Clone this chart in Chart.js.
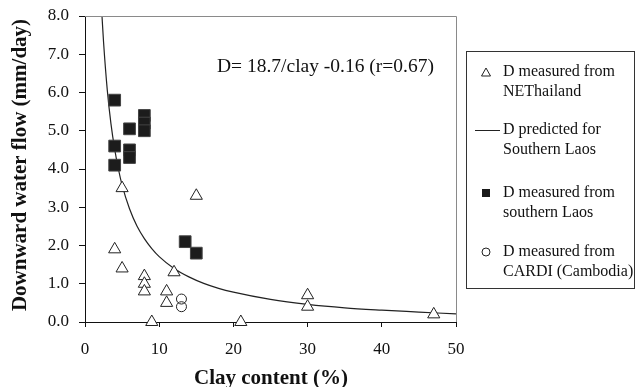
<!DOCTYPE html>
<html><head><meta charset="utf-8">
<script src="https://cdn.jsdelivr.net/npm/chart.js@4"></script>
<style>html,body{margin:0;padding:0;background:#fff;overflow:hidden}#wrap{width:636px;height:387px;position:relative}canvas{display:block}</style>
</head><body><div id="wrap"><canvas id="c" width="636" height="387"></canvas></div>
<script>
const thaiClay = [5, 15, 4, 5, 8, 8, 8, 12, 11, 11, 9, 21, 30, 30, 47];
const thaiD    = [3.5, 3.3, 1.9, 1.4, 1.2, 1.0, 0.8, 1.3, 0.8, 0.5, 0, 0, 0.7, 0.4, 0.2];
const laosClay = [4, 8, 8, 8, 6, 4, 6, 6, 4, 13.5, 15];
const laosD    = [5.8, 5.4, 5.2, 5.0, 5.05, 4.6, 4.5, 4.3, 4.1, 2.1, 1.8];
const cardiClay = [13, 13];
const cardiD    = [0.6, 0.4];
const curveClay = [2.29, 2.5, 3, 3.5, 4, 4.5, 5, 6, 7, 8, 9, 10, 12, 14, 16, 18, 20, 25, 30, 35, 40, 45, 50];
const curveD    = [8.0, 7.32, 6.07, 5.18, 4.52, 4.00, 3.58, 2.96, 2.51, 2.18, 1.92, 1.71, 1.40, 1.18, 1.01, 0.88, 0.78, 0.59, 0.46, 0.37, 0.31, 0.26, 0.21];
const xTickValues = [0, 10, 20, 30, 40, 50];
const yTickValues = [0, 1, 2, 3, 4, 5, 6, 7, 8];
const equationText = 'D= 18.7/clay -0.16 (r=0.67)';
const xTitle = 'Clay content (%)';
const yTitle = 'Downward water flow (mm/day)';
const legendLabels = [
  ['D measured from', 'NEThailand'],
  ['D predicted for', 'Southern Laos'],
  ['D measured from', 'southern Laos'],
  ['D measured from', 'CARDI (Cambodia)']
];

const SERIF = '"Liberation Serif", "Times New Roman", serif';
const pts = (xs, ys) => xs.map((x, i) => ({x: x, y: ys[i]}));

const extras = {
  id: 'extras',
  afterDraw(chart) {
    const ctx = chart.ctx, a = chart.chartArea;
    ctx.save();
    ctx.strokeStyle = '#8a8a8a';
    ctx.lineWidth = 1;
    ctx.beginPath();
    ctx.moveTo(a.left, a.top + 0.5); ctx.lineTo(a.right + 0.5, a.top + 0.5);
    ctx.lineTo(a.right + 0.5, a.bottom);
    ctx.stroke();
    ctx.fillStyle = '#111';
    ctx.font = '19.5px ' + SERIF;
    ctx.textAlign = 'left'; ctx.textBaseline = 'alphabetic';
    ctx.fillText(equationText, 217, 72);
    ctx.font = 'bold 21px ' + SERIF;
    ctx.textAlign = 'center';
    ctx.fillText(xTitle, 271, 384);
    ctx.save();
    ctx.translate(26, 165);
    ctx.rotate(-Math.PI / 2);
    ctx.fillText(yTitle, 0, 0);
    ctx.restore();
    ctx.strokeStyle = '#333';
    ctx.strokeRect(466.5, 51.5, 168, 237);
    ctx.font = '16px ' + SERIF;
    ctx.textAlign = 'left'; ctx.textBaseline = 'middle';
    const rows = [72, 130, 193, 252];
    rows.forEach((yc, i) => {
      ctx.fillStyle = '#111';
      ctx.fillText(legendLabels[i][0], 503, yc);
      ctx.fillText(legendLabels[i][1], 503, yc + 20);
      ctx.strokeStyle = '#222'; ctx.lineWidth = 1;
      if (i === 0) {
        ctx.beginPath();
        ctx.moveTo(486, yc - 4); ctx.lineTo(490.5, yc + 4); ctx.lineTo(481.5, yc + 4); ctx.closePath();
        ctx.fillStyle = '#fff'; ctx.fill(); ctx.stroke();
      } else if (i === 1) {
        ctx.beginPath(); ctx.moveTo(475, yc + 0.5); ctx.lineTo(500, yc + 0.5); ctx.stroke();
      } else if (i === 2) {
        ctx.fillStyle = '#1a1a1a'; ctx.fillRect(482, yc - 4, 8, 8);
      } else {
        ctx.beginPath(); ctx.arc(486, yc, 4, 0, Math.PI * 2);
        ctx.fillStyle = '#fff'; ctx.fill(); ctx.stroke();
      }
    });
    ctx.restore();
  }
};

new Chart(document.getElementById('c'), {
  type: 'scatter',
  data: {
    datasets: [
      { label: legendLabels[0].join(' '), data: pts(thaiClay, thaiD), pointStyle: 'triangle', radius: 7,
        backgroundColor: '#fff', borderColor: '#222', borderWidth: 1, clip: false },
      { label: legendLabels[2].join(' '), data: pts(laosClay, laosD), pointStyle: 'rect', radius: 8.3,
        backgroundColor: '#1c1c1c', borderColor: '#444', borderWidth: 1, clip: false },
      { label: legendLabels[3].join(' '), data: pts(cardiClay, cardiD), pointStyle: 'circle', radius: 5,
        backgroundColor: 'rgba(255,255,255,0)', borderColor: '#222', borderWidth: 1, clip: false },
      { label: legendLabels[1].join(' '), data: pts(curveClay, curveD), showLine: true, pointRadius: 0,
        borderColor: '#222', borderWidth: 1.2, cubicInterpolationMode: 'monotone', fill: false }
    ]
  },
  options: {
    responsive: false,
    animation: false,
    devicePixelRatio: 1,
    layout: { padding: { top: 16, right: 180, left: 0, bottom: 0 } },
    plugins: { legend: { display: false }, tooltip: { enabled: false } },
    scales: {
      x: {
        type: 'linear', min: 0, max: 50,
        afterBuildTicks: s => { s.ticks = xTickValues.map(v => ({value: v})); },
        afterFit: s => { s.height = 65; },
        ticks: { color: '#111', font: { family: SERIF, size: 17 }, padding: 12, maxRotation: 0 },
        grid: { display: true, drawOnChartArea: false, drawTicks: true, tickLength: 5, color: '#111' },
        border: { color: '#111', width: 1 }
      },
      y: {
        type: 'linear', min: 0, max: 8,
        afterBuildTicks: s => { s.ticks = yTickValues.map(v => ({value: v})); },
        afterFit: s => { s.width = 85; s.paddingTop = 0; s.paddingBottom = 0; },
        ticks: { color: '#111', font: { family: SERIF, size: 17 }, padding: 10, callback: v => v.toFixed(1) },
        grid: { display: true, drawOnChartArea: false, drawTicks: true, tickLength: 6, color: '#111' },
        border: { color: '#111', width: 1 }
      }
    }
  },
  plugins: [extras]
});
</script>
</body></html>
